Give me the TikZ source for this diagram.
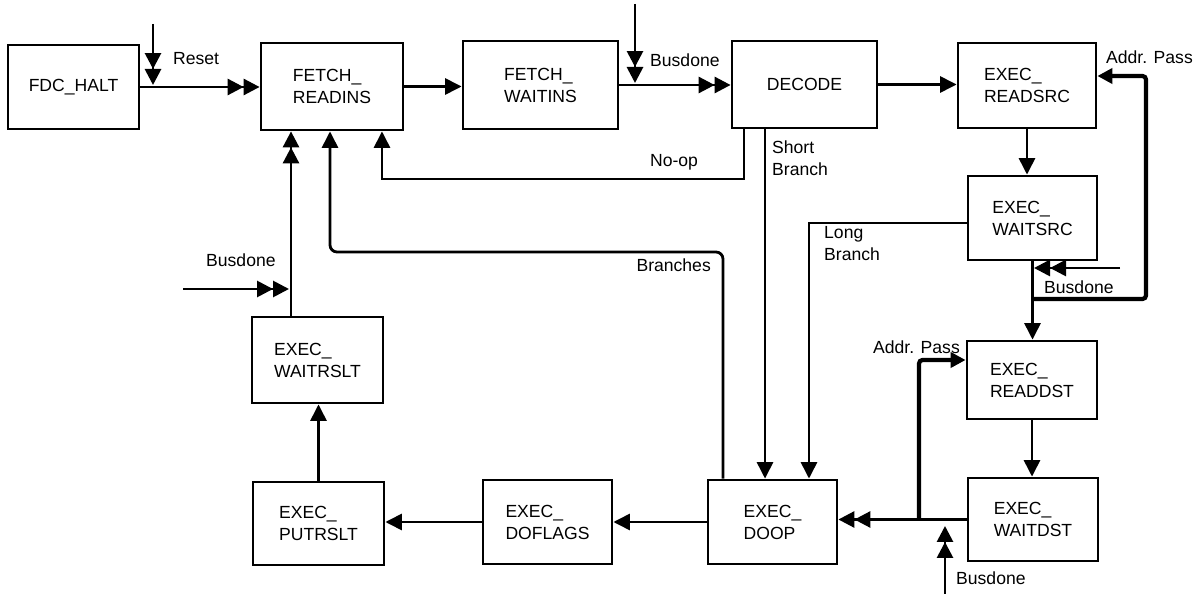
\documentclass[tikz,border=0pt]{standalone}
\usepackage{fontspec}
\setmainfont{Liberation Sans}
\usetikzlibrary{arrows.meta}

\begin{document}
\begin{tikzpicture}[x=0.02cm, y=-0.02cm,
        font=\fontsize{10}{12.5}\selectfont,
        state/.style={rectangle, draw, line width=1.6pt, minimum
          width=2.6cm, minimum height=1.68cm, align=left, inner sep=0pt},
        line/.style={draw, line width=1.6pt,
          -{Triangle[length=0.33cm, width=0.32cm]}},
        dline/.style={draw, line width=1.6pt,
          -{Triangle[length=0.32cm, width=0.32cm, sep=0pt]
            Triangle[length=0.32cm, width=0.32cm]}},
        pass/.style={draw, line width=2.4pt, rounded corners=2pt,
          -{Triangle[length=0.3cm, width=0.3cm]}}
      ]
      \useasboundingbox (0,0) rectangle (1194,594);

      % fetch / decode row
      \node [state, minimum width=2.62cm] (fdchalt) at (73.5, 87) {FDC\_HALT};
      \node [state, minimum width=2.84cm, minimum height=1.74cm]
      (fetchreadins) at (332, 86.5) {FETCH\_\\READINS};
      \node [state, minimum width=3.1cm, minimum height=1.76cm]
      (fetchwaitins) at (540.5, 85) {FETCH\_\\WAITINS};
      \node [state, minimum width=2.9cm, minimum height=1.74cm]
      (decode) at (804.5, 84.5) {DECODE};

      % execute states
      \node [state, minimum width=2.76cm, minimum height=1.7cm]
      (readsrc) at (1027, 85.5) {EXEC\_\\READSRC};
      \node [state, minimum width=2.58cm] (waitsrc) at (1032.5, 218)
      {EXEC\_\\WAITSRC};
      \node [state, minimum height=1.56cm] (readdst) at (1032, 380)
      {EXEC\_\\READDST};
      \node [state, minimum height=1.66cm] (waitdst) at (1033, 519.5)
      {EXEC\_\\WAITDST};
      \node [state, minimum width=2.58cm] (doop) at (772.5, 522)
      {EXEC\_\\DOOP};
      \node [state, minimum width=2.58cm] (doflags) at (547.5, 522)
      {EXEC\_\\DOFLAGS};
      \node [state, minimum width=2.62cm, minimum height=1.66cm]
      (putrslt) at (318.5, 523.5) {EXEC\_\\PUTRSLT};
      \node [state, minimum width=2.62cm, minimum height=1.72cm]
      (waitrslt) at (317.5, 360) {EXEC\_\\WAITRSLT};

      % free ends and junctions
      \coordinate (resettop) at (153, 24);
      \coordinate (resetjoin) at (153, 85);
      \coordinate (bdfetch) at (635, 4);
      \coordinate (bdfetchjoin) at (635, 83);
      \coordinate (bdsrc) at (1120, 268);
      \coordinate (bdsrcjoin) at (1034, 268);
      \coordinate (srcsplit) at (1033, 299);
      \coordinate (srcpassR) at (1146, 76);
      \coordinate (dstsplit) at (919, 519.5);
      \coordinate (bddst) at (945, 594);
      \coordinate (bddstjoin) at (945, 526);
      \coordinate (bdrslt) at (183, 289);
      \coordinate (bdrsltjoin) at (289, 289);
      \coordinate (noopbend) at (560, 179);
      \coordinate (brbend) at (500, 252);

      % top row
      \path [dline] (resettop) -- (resetjoin);
      \node [anchor=west] at (167, 59) {Reset};
      \path [dline] (fdchalt.east) -- (fdchalt.east -| fetchreadins.west);
      \path [line] (fetchreadins.east) -- (fetchreadins.east -| fetchwaitins.west);
      \path [dline] (bdfetch) -- (bdfetchjoin);
      \node [anchor=west] at (644, 60) {Busdone};
      \path [dline] (fetchwaitins.east) -- (fetchwaitins.east -| decode.west);
      \path [line] (decode.east) -- (decode.east -| readsrc.west);

      % source operand
      \path [line] (readsrc.south) -- (readsrc.south |- waitsrc.north);
      \path [line] (waitsrc.south) -- (waitsrc.south |- readdst.north);
      \path [dline] (bdsrc) -- (bdsrcjoin);
      \node [anchor=west] at (1038, 287) {Busdone};
      \path [pass] (srcsplit) -| (srcpassR) -- (srcpassR -| readsrc.east);
      \node [anchor=west] at (1100, 57) {Addr. Pass};

      % destination operand
      \path [line] (readdst.south) -- (readdst.south |- waitdst.north);
      \path [dline] (waitdst.west) -- (waitdst.west -| doop.east);
      \path [pass] (dstsplit) |- ([yshift=0.4cm]readdst.west);
      \node [anchor=east] at (966, 347) {Addr. Pass};
      \path [dline] (bddst) -- (bddstjoin);
      \node [anchor=west] at (950, 578) {Busdone};

      % branches out of decode
      \path [line] ([xshift=-0.79cm]decode.south)
      -- ([xshift=-0.79cm]decode.south |- doop.north);
      \node [anchor=north west, align=left] at (766, 135) {Short\\Branch};
      \path [line] ([yshift=-0.1cm]waitsrc.west)
      -| ([xshift=0.73cm]doop.north);
      \node [anchor=north west, align=left] at (818, 220) {Long\\Branch};
      \path [line] ([xshift=-1.21cm]decode.south) |- (noopbend)
      -| ([xshift=1cm]fetchreadins.south);
      \node at (674, 162) {No-op};
      \path [line, rounded corners=4pt] ([xshift=-0.99cm]doop.north)
      |- (brbend) -| ([xshift=-0.04cm]fetchreadins.south);
      \node [anchor=east] at (717, 265) {Branches};

      % result write back
      \path [line] (doop.west) -- (doop.west -| doflags.east);
      \path [line] (doflags.west) -- (doflags.west -| putrslt.east);
      \path [line] (putrslt.north) -- (putrslt.north |- waitrslt.south);
      \path [dline] ([xshift=-0.53cm]waitrslt.north)
      -- ([xshift=-0.53cm]waitrslt.north |- fetchreadins.south);
      \path [dline] (bdrslt) -- (bdrsltjoin);
      \node [anchor=west] at (200, 260) {Busdone};

    \end{tikzpicture}
\end{document}
